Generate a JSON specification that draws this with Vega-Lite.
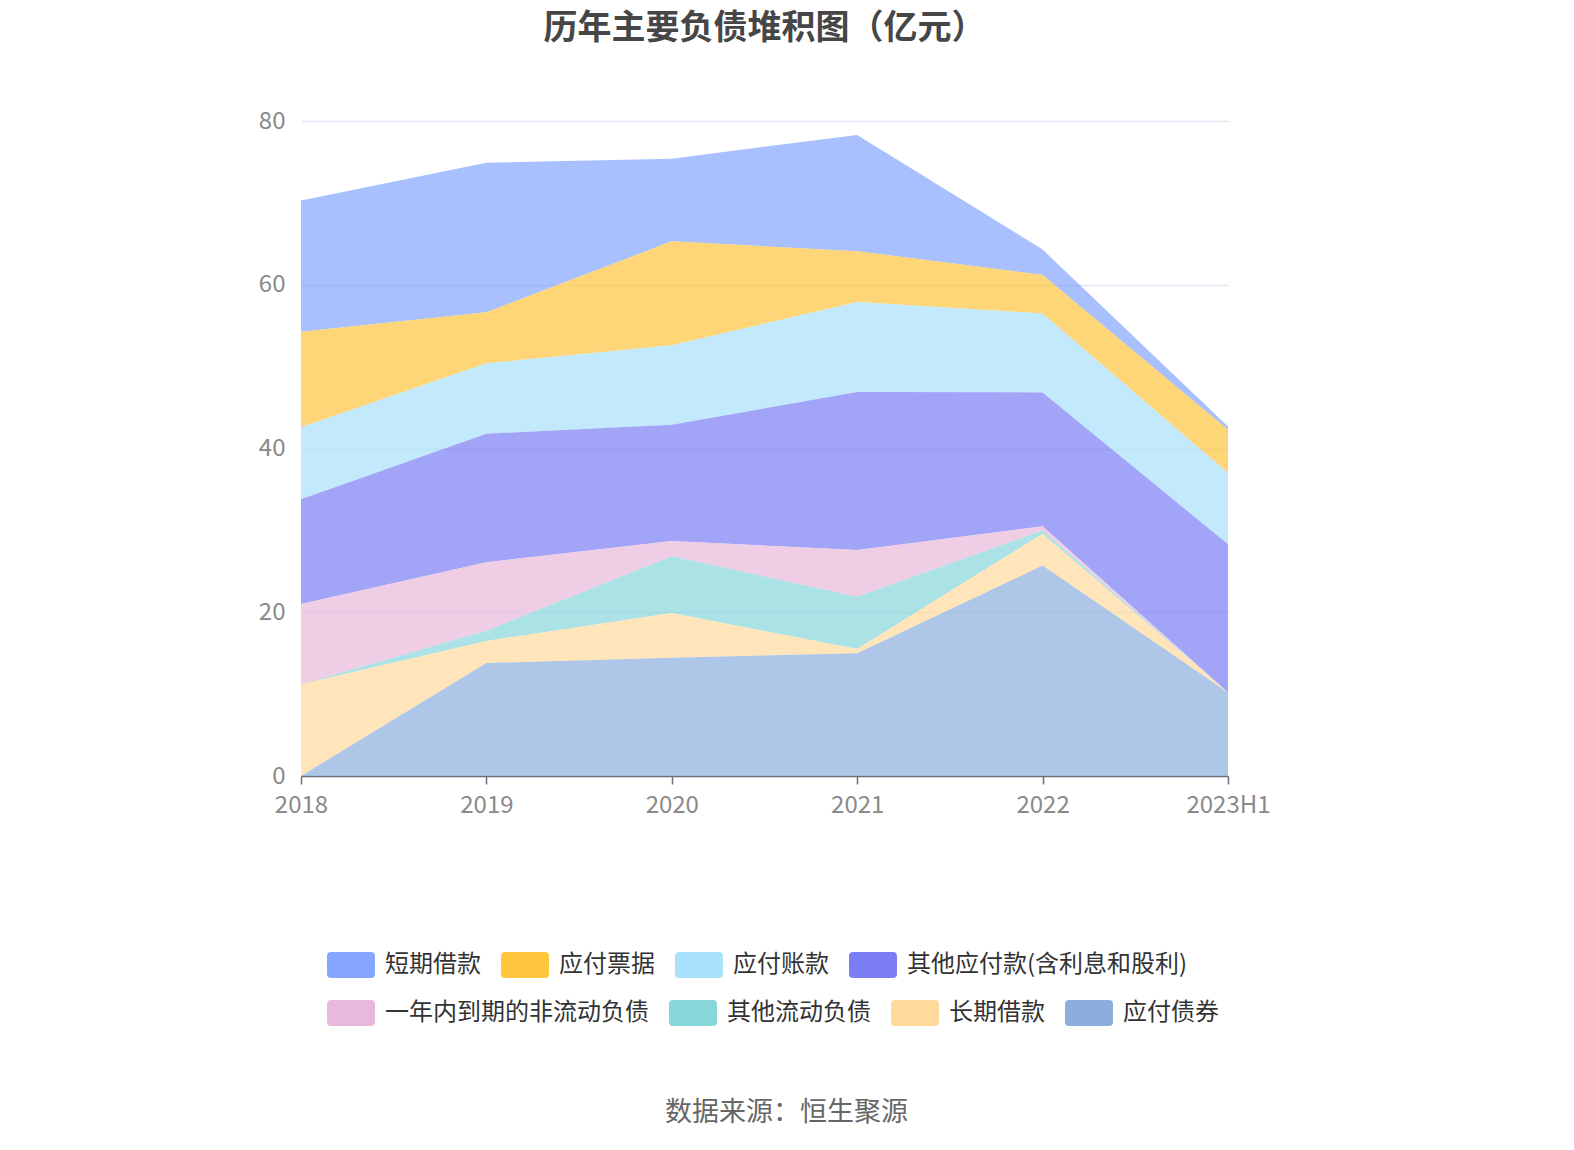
{
  "$schema": "https://vega.github.io/schema/vega-lite/v6.json",
  "width": 927,
  "height": 655,
  "autosize": {"type": "none"},
  "padding": {"left": 301, "top": 121, "right": 346, "bottom": 374},
  "background": "white",
  "title": {
    "text": "历年主要负债堆积图（亿元）",
    "anchor": "middle",
    "baseline": "middle",
    "offset": 46,
    "font": "Noto Sans CJK SC",
    "fontSize": 34,
    "fontWeight": "bold",
    "color": "#464646"
  },
  "data": {
    "values": [
      {"year": "2018", "s": "短期借款", "v": 16.05},
      {"year": "2018", "s": "应付票据", "v": 11.65},
      {"year": "2018", "s": "应付账款", "v": 8.8},
      {"year": "2018", "s": "其他应付款(含利息和股利)", "v": 12.8},
      {"year": "2018", "s": "一年内到期的非流动负债", "v": 9.8},
      {"year": "2018", "s": "其他流动负债", "v": 0},
      {"year": "2018", "s": "长期借款", "v": 11.2},
      {"year": "2018", "s": "应付债券", "v": 0},
      {"year": "2019", "s": "短期借款", "v": 18.25},
      {"year": "2019", "s": "应付票据", "v": 6.25},
      {"year": "2019", "s": "应付账款", "v": 8.6},
      {"year": "2019", "s": "其他应付款(含利息和股利)", "v": 15.7},
      {"year": "2019", "s": "一年内到期的非流动负债", "v": 8.35},
      {"year": "2019", "s": "其他流动负债", "v": 1.25},
      {"year": "2019", "s": "长期借款", "v": 2.7},
      {"year": "2019", "s": "应付债券", "v": 13.8},
      {"year": "2020", "s": "短期借款", "v": 10.1},
      {"year": "2020", "s": "应付票据", "v": 12.7},
      {"year": "2020", "s": "应付账款", "v": 9.7},
      {"year": "2020", "s": "其他应付款(含利息和股利)", "v": 14.2},
      {"year": "2020", "s": "一年内到期的非流动负债", "v": 1.85},
      {"year": "2020", "s": "其他流动负债", "v": 6.95},
      {"year": "2020", "s": "长期借款", "v": 5.45},
      {"year": "2020", "s": "应付债券", "v": 14.45},
      {"year": "2021", "s": "短期借款", "v": 14.2},
      {"year": "2021", "s": "应付票据", "v": 6.2},
      {"year": "2021", "s": "应付账款", "v": 11.0},
      {"year": "2021", "s": "其他应付款(含利息和股利)", "v": 19.3},
      {"year": "2021", "s": "一年内到期的非流动负债", "v": 5.7},
      {"year": "2021", "s": "其他流动负债", "v": 6.4},
      {"year": "2021", "s": "长期借款", "v": 0.5},
      {"year": "2021", "s": "应付债券", "v": 15.0},
      {"year": "2022", "s": "短期借款", "v": 3.1},
      {"year": "2022", "s": "应付票据", "v": 4.7},
      {"year": "2022", "s": "应付账款", "v": 9.65},
      {"year": "2022", "s": "其他应付款(含利息和股利)", "v": 16.35},
      {"year": "2022", "s": "一年内到期的非流动负债", "v": 0.5},
      {"year": "2022", "s": "其他流动负债", "v": 0.4},
      {"year": "2022", "s": "长期借款", "v": 3.9},
      {"year": "2022", "s": "应付债券", "v": 25.7},
      {"year": "2023H1", "s": "短期借款", "v": 0.4},
      {"year": "2023H1", "s": "应付票据", "v": 5.3},
      {"year": "2023H1", "s": "应付账款", "v": 8.7},
      {"year": "2023H1", "s": "其他应付款(含利息和股利)", "v": 18.1},
      {"year": "2023H1", "s": "一年内到期的非流动负债", "v": 0},
      {"year": "2023H1", "s": "其他流动负债", "v": 0},
      {"year": "2023H1", "s": "长期借款", "v": 0},
      {"year": "2023H1", "s": "应付债券", "v": 10.2}
    ]
  },
  "transform": [
    {"calculate": "indexof(['短期借款','应付票据','应付账款','其他应付款(含利息和股利)','一年内到期的非流动负债','其他流动负债','长期借款','应付债券'], datum.s)", "as": "rank"}
  ],
  "layer": [
    {
      "mark": {"type": "area", "opacity": 0.7},
      "encoding": {
        "x": {
          "field": "year",
          "type": "ordinal",
          "scale": {"type": "point", "padding": 0},
          "axis": {
            "title": "数据来源：恒生聚源",
            "titleX": 485,
            "titleY": 336,
            "titleBaseline": "middle",
            "titleFont": "Noto Sans CJK SC",
            "titleFontSize": 27,
            "titleFontWeight": "normal",
            "titleColor": "#666666",
            "labelAngle": 0,
            "labelFont": "Noto Sans CJK SC",
            "labelFontSize": 24,
            "labelColor": "#8a8a8a",
            "labelPadding": 9,
            "domainColor": "#6E7079",
            "domainWidth": 1.5,
            "tickColor": "#6E7079",
            "tickSize": 8,
            "tickWidth": 1.5,
            "grid": false
          }
        },
        "y": {
          "field": "v",
          "type": "quantitative",
          "aggregate": "sum",
          "stack": "zero",
          "scale": {"domain": [0, 80]},
          "axis": {
            "title": null,
            "values": [0, 20, 40, 60, 80],
            "labelFont": "Noto Sans CJK SC",
            "labelFontSize": 24,
            "labelColor": "#8a8a8a",
            "labelPadding": 16,
            "domain": false,
            "ticks": false,
            "gridColor": "#E0E6F1",
            "gridWidth": 1.5
          }
        },
        "order": {"field": "rank", "type": "quantitative", "sort": "descending"},
        "color": {
          "field": "s",
          "type": "nominal",
          "scale": {
            "domain": ["短期借款", "应付票据", "应付账款", "其他应付款(含利息和股利)", "一年内到期的非流动负债", "其他流动负债", "长期借款", "应付债券"],
            "range": ["#85A5FF", "#FFC53D", "#A9E1FB", "#7A7DF5", "#E8B9DA", "#87D6DA", "#FFDA9B", "#8CAEDD"]
          },
          "legend": null
        }
      }
    },
    {
      "transform": [{"filter": "datum.rank < 4"}],
      "mark": {"type": "square", "opacity": 0},
      "encoding": {
        "color": {
          "field": "s",
          "type": "nominal",
          "scale": {
            "domain": ["短期借款", "应付票据", "应付账款", "其他应付款(含利息和股利)"],
            "range": ["#85A5FF", "#FFC53D", "#A9E1FB", "#7A7DF5"]
          },
          "legend": {"legendY": 820}
        }
      }
    },
    {
      "transform": [{"filter": "datum.rank >= 4"}],
      "mark": {"type": "square", "opacity": 0},
      "encoding": {
        "color": {
          "field": "s",
          "type": "nominal",
          "scale": {
            "domain": ["一年内到期的非流动负债", "其他流动负债", "长期借款", "应付债券"],
            "range": ["#E8B9DA", "#87D6DA", "#FFDA9B", "#8CAEDD"]
          },
          "legend": {"legendY": 868}
        }
      }
    }
  ],
  "resolve": {"scale": {"color": "independent"}, "legend": {"color": "independent"}},
  "config": {
    "view": {"stroke": null},
    "legend": {
      "title": null,
      "orient": "none",
      "legendX": 26,
      "direction": "horizontal",
      "columns": 4,
      "columnPadding": 20,
      "symbolType": "M-0.83,-0.54 L0.83,-0.54 Q1,-0.54 1,-0.37 L1,0.37 Q1,0.54 0.83,0.54 L-0.83,0.54 Q-1,0.54 -1,0.37 L-1,-0.37 Q-1,-0.54 -0.83,-0.54 Z",
      "symbolSize": 2304,
      "symbolOpacity": 1,
      "symbolStrokeWidth": 0,
      "labelFont": "Noto Sans CJK SC",
      "labelFontSize": 24,
      "labelColor": "#333333",
      "labelOffset": 10,
      "labelLimit": 0
    }
  }
}
